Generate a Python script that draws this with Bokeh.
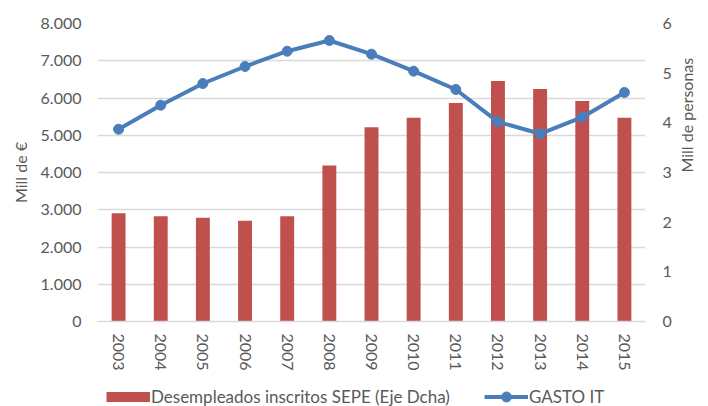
import math
from bokeh.plotting import figure
from bokeh.layouts import column
from bokeh.models import (Range1d, FactorRange, LinearAxis, Legend, LegendItem,
                          CustomJSTickFormatter, FixedTicker, ColumnDataSource)
from bokeh.embed import file_html
from bokeh.resources import INLINE

years = ["2003", "2004", "2005", "2006", "2007", "2008", "2009", "2010",
         "2011", "2012", "2013", "2014", "2015"]
desempleados = [2.18, 2.12, 2.09, 2.03, 2.12, 3.14, 3.91, 4.10, 4.40, 4.84, 4.68, 4.44, 4.10]
gasto_it = [5162, 5807, 6389, 6846, 7256, 7544, 7176, 6720, 6228, 5361, 5039, 5485, 6148]
left_ticks = [0, 1000, 2000, 3000, 4000, 5000, 6000, 7000, 8000]
right_ticks = [0, 1, 2, 3, 4, 5, 6]
series_names = ["Desempleados inscritos SEPE (Eje Dcha)", "GASTO IT"]

FONT = "Lato"
GREY = "#595959"
RED = "#c0504d"
BLUE = "#4a7ebb"

src = ColumnDataSource(dict(year=years, des=desempleados, gasto=gasto_it))

p = figure(width=708, height=376, x_range=FactorRange(*years),
           y_range=Range1d(0, 8000), output_backend="svg", toolbar_location=None,
           min_border_left=97, min_border_right=56, min_border_top=23,
           min_border_bottom=55)
p.extra_y_ranges = {"right": Range1d(0, 6)}
p.outline_line_color = None
p.background_fill_color = "white"
p.border_fill_color = "white"

p.vbar(x="year", top="des", width=0.33, source=src, y_range_name="right",
       fill_color=RED, line_color=None)
p.line(x="year", y="gasto", source=src, line_color=BLUE, line_width=4)
p.scatter(x="year", y="gasto", source=src, size=10, fill_color=BLUE,
          line_color=BLUE)

# grid
p.xgrid.grid_line_color = None
p.ygrid.grid_line_color = "#d9d9d9"
p.ygrid.grid_line_width = 1.5
p.ygrid.ticker = FixedTicker(ticks=left_ticks)


def style_y(ax, standoff):
    ax.axis_line_color = None
    ax.major_tick_line_color = None
    ax.minor_tick_line_color = None
    ax.major_tick_out = 0
    ax.major_tick_in = 0
    ax.minor_tick_out = 0
    ax.minor_tick_in = 0
    ax.major_label_standoff = standoff
    ax.major_label_text_font = FONT
    ax.major_label_text_font_size = "16px"
    ax.major_label_text_color = GREY
    ax.axis_label_text_font = FONT
    ax.axis_label_text_font_size = "16px"
    ax.axis_label_text_font_style = "normal"
    ax.axis_label_text_color = GREY


# left axis
ly = p.yaxis[0]
ly.ticker = FixedTicker(ticks=left_ticks)
ly.formatter = CustomJSTickFormatter(code="""
return tick.toFixed(0).replace(/\\B(?=(\\d{3})+(?!\\d))/g, '.');
""")
ly.axis_label = "Mill de €"
style_y(ly, 16)
ly.axis_label_standoff = 8

# right axis
ry = LinearAxis(y_range_name="right", ticker=FixedTicker(ticks=right_ticks),
                axis_label="Mill de personas")
style_y(ry, 17)
ry.axis_label_standoff = 12
try:
    ry.axis_label_orientation = math.pi / 2
except Exception:
    pass
p.add_layout(ry, "right")

# x axis
xa = p.xaxis[0]
xa.axis_line_color = "#d9d9d9"
xa.axis_line_width = 1.5
xa.major_tick_line_color = None
xa.minor_tick_line_color = None
xa.major_tick_out = 0
xa.major_tick_in = 0
xa.minor_tick_out = 0
xa.minor_tick_in = 0
xa.major_label_orientation = "vertical"
xa.major_label_standoff = 12
xa.major_label_text_font = FONT
xa.major_label_text_font_size = "16px"
xa.major_label_text_color = GREY

# legend strip (separate small figure holding only the legend)
lg = figure(width=708, height=30, x_range=Range1d(0, 1), y_range=Range1d(0, 1),
            output_backend="svg", toolbar_location=None, min_border=0,
            outline_line_color=None, background_fill_color="white",
            border_fill_color="white")
lg.axis.visible = False
lg.grid.visible = False
dummy = ColumnDataSource(dict(x=[5, 6], y=[5, 6]))
lb = lg.line(x="x", y="y", source=dummy, line_color=RED, line_width=10,
             line_cap="butt")
ll = lg.line(x="x", y="y", source=dummy, line_color=BLUE, line_width=4)
lp = lg.scatter(x="x", y="y", source=dummy, size=10, fill_color=BLUE, line_color=BLUE)
legend = Legend(items=[
    LegendItem(label=series_names[0], renderers=[lb]),
    LegendItem(label=series_names[1], renderers=[ll, lp]),
], orientation="horizontal", location=(9, -3), glyph_width=44, glyph_height=25,
   label_height=25,
   label_text_font=FONT, label_text_font_size="17px", label_text_color=GREY,
   label_standoff=1, spacing=34, padding=0, margin=0, border_line_color=None,
   background_fill_alpha=0)
lg.add_layout(legend, "center")

open("out.html", "w").write(file_html(column(p, lg, spacing=0), INLINE))
